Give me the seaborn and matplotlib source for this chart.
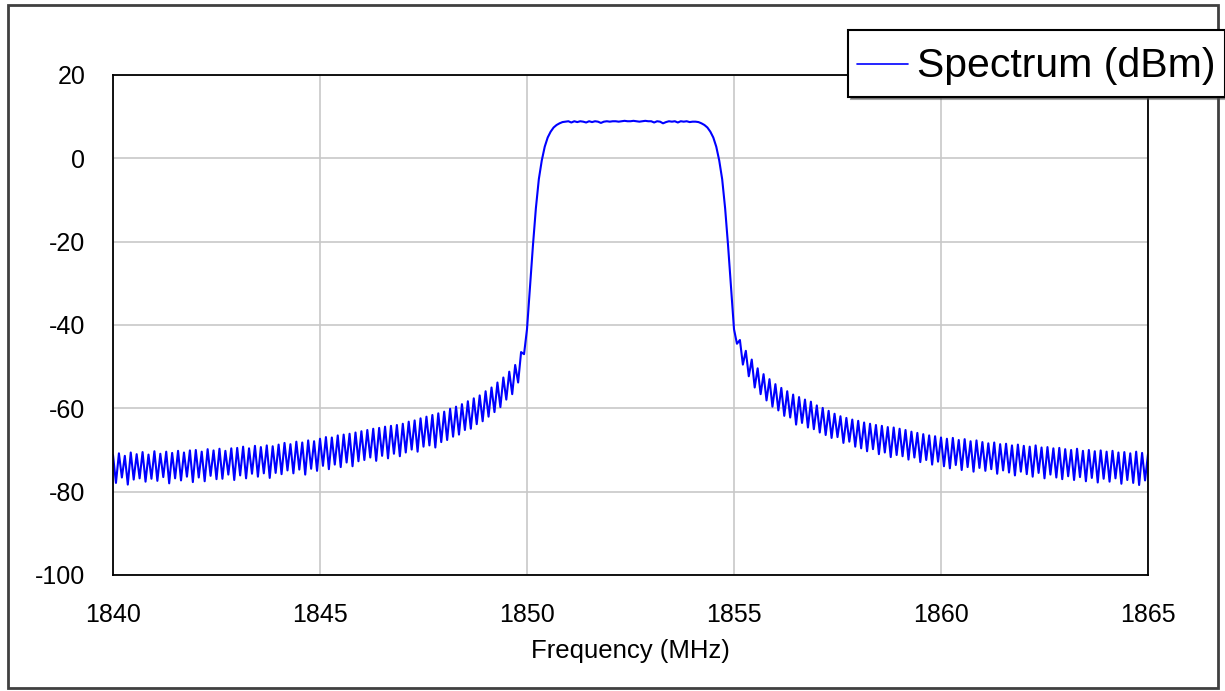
import numpy as np
import pandas as pd
import matplotlib
matplotlib.use("Agg")
import matplotlib.pyplot as plt
from matplotlib.patches import Rectangle
import seaborn as sns

# Spectrum trace, 14 samples per MHz from 1840 to 1865 MHz
level_1840 = [-71.2, -77.9, -70.8, -76.6, -71.4, -78.3, -70.6, -77.1, -71.0, -76.8, -70.5, -77.6, -71.1, -76.9]
level_1841 = [-70.3, -77.4, -70.9, -76.5, -70.4, -78.0, -70.7, -76.8, -70.2, -77.3, -70.6, -76.4, -70.1, -77.7]
level_1842 = [-70.0, -76.6, -70.4, -77.5, -69.8, -76.2, -70.1, -77.0, -69.7, -76.9, -70.2, -75.9, -69.6, -77.2]
level_1843 = [-69.5, -76.1, -69.2, -76.8, -69.6, -75.7, -69.0, -76.4, -69.3, -75.6, -68.9, -76.7, -69.1, -75.5]
level_1844 = [-68.7, -75.8, -68.3, -74.9, -68.6, -75.6, -68.0, -74.7, -68.2, -75.9, -67.7, -74.5, -67.9, -75.0]
level_1845 = [-67.3, -73.8, -66.9, -74.6, -67.0, -73.5, -66.5, -74.1, -66.3, -73.0, -66.1, -73.9, -65.8, -72.7]
level_1846 = [-65.5, -72.4, -65.2, -71.8, -64.9, -72.6, -64.7, -71.4, -64.4, -72.0, -64.2, -70.9, -64.0, -71.5]
level_1847 = [-63.7, -70.6, -63.2, -69.9, -62.9, -70.4, -62.4, -69.2, -62.0, -68.9, -61.6, -69.4, -61.2, -68.1]
level_1848 = [-60.8, -67.6, -60.1, -66.8, -59.6, -66.3, -59.0, -65.2, -58.3, -64.9, -57.6, -63.8, -56.9, -63.1]
level_1849 = [-55.9, -62.0, -55.0, -60.9, -53.8, -59.7, -52.6, -57.9, -51.2, -56.6, -49.6, -53.8, -46.5, -47.0]
level_1850 = [-41.0, -31.0, -21.0, -12.0, -5.0, -0.5, 2.8, 5.0, 6.4, 7.4, 8.0, 8.4, 8.7, 8.8]
level_1851 = [8.9, 8.6, 8.9, 8.7, 8.9, 8.8, 8.6, 8.9, 8.7, 8.9, 8.8, 8.5, 8.8, 8.9]
level_1852 = [8.8, 8.9, 8.9, 8.8, 8.9, 9.0, 8.9, 8.9, 9.0, 8.9, 8.8, 8.9, 9.0, 8.9]
level_1853 = [8.9, 8.6, 8.9, 8.8, 8.4, 8.7, 8.9, 8.8, 8.9, 8.6, 8.9, 8.8, 8.9, 8.7]
level_1854 = [8.8, 8.8, 8.7, 8.4, 8.0, 7.4, 6.4, 5.0, 2.8, -0.5, -5.0, -12.0, -21.0, -31.0]
level_1855 = [-41.0, -44.5, -43.6, -49.5, -46.2, -52.3, -48.3, -55.0, -50.4, -56.6, -51.8, -58.1, -53.0, -59.6]
level_1856 = [-54.2, -60.5, -55.1, -61.8, -55.9, -62.2, -56.7, -63.9, -57.3, -63.5, -57.9, -64.6, -58.4, -65.0]
level_1857 = [-59.3, -65.8, -59.9, -66.4, -60.6, -67.1, -61.3, -66.9, -61.9, -68.3, -62.3, -68.0, -62.7, -69.2]
level_1858 = [-63.0, -69.6, -63.4, -70.3, -63.7, -69.8, -64.0, -71.0, -64.2, -70.6, -64.5, -71.7, -64.6, -71.2]
level_1859 = [-64.9, -71.5, -65.2, -72.3, -65.6, -71.8, -65.9, -72.9, -66.2, -72.4, -66.5, -73.5, -66.7, -72.8]
level_1860 = [-67.0, -73.9, -67.3, -74.4, -67.1, -73.6, -67.6, -74.8, -67.4, -74.1, -67.9, -75.2, -67.7, -74.3]
level_1861 = [-68.1, -75.0, -68.4, -74.6, -68.2, -75.7, -68.6, -74.9, -68.5, -75.4, -68.9, -76.1, -68.7, -75.2]
level_1862 = [-69.0, -75.8, -69.2, -76.4, -68.9, -75.5, -69.4, -76.8, -69.3, -75.9, -69.6, -76.6, -69.5, -77.0]
level_1863 = [-69.8, -76.3, -70.0, -77.2, -69.7, -76.5, -70.2, -77.5, -70.0, -76.7, -70.3, -77.8, -70.1, -76.9]
level_1864 = [-70.4, -77.6, -70.2, -76.8, -70.6, -78.1, -70.5, -77.2, -70.8, -77.9, -70.4, -78.4, -70.7, -77.3]
level_1865 = [-71.0]

x_ticks = [1840, 1845, 1850, 1855, 1860, 1865]
y_ticks = [-100, -80, -60, -40, -20, 0, 20]

levels = (level_1840 + level_1841 + level_1842 + level_1843 + level_1844 +
          level_1845 + level_1846 + level_1847 + level_1848 + level_1849 +
          level_1850 + level_1851 + level_1852 + level_1853 + level_1854 +
          level_1855 + level_1856 + level_1857 + level_1858 + level_1859 +
          level_1860 + level_1861 + level_1862 + level_1863 + level_1864 +
          level_1865)
freq = np.linspace(1840, 1865, len(levels))
df = pd.DataFrame({"freq": freq, "level": levels})

sns.set_style("white")
plt.rcParams["font.family"] = ["Liberation Sans", "DejaVu Sans"]
plt.rcParams["axes.unicode_minus"] = False
plt.rcParams["text.color"] = "black"
plt.rcParams["axes.labelcolor"] = "black"

fig = plt.figure(figsize=(12.25, 6.91), dpi=100)
ax = fig.add_axes([113 / 1225, 116 / 691, 1035 / 1225, 500 / 691])

sns.lineplot(data=df, x="freq", y="level", color="#0000ff", linewidth=1.5,
             label="Spectrum (dBm)", legend=False, ax=ax)

ax.set_xlim(1840, 1865)
ax.set_ylim(-100, 20)
ax.set_xticks(x_ticks)
ax.set_yticks(y_ticks)
ax.grid(True, color="#c8c8c8", linewidth=1.2)
ax.set_axisbelow(True)
ax.tick_params(axis="both", length=0, labelsize=18, colors="black")
ax.tick_params(axis="y", pad=20)
ax.tick_params(axis="x", pad=20)
ax.set_xlabel("Frequency (MHz)", fontsize=18.5, labelpad=9, color="black")
ax.set_ylabel("")
for s in ax.spines.values():
    s.set_color("black")
    s.set_linewidth(1.3)

# outer frame round the whole picture
fig.patches.append(Rectangle((8 / 1225, 3 / 691), 1210 / 1225, 683 / 691,
                             transform=fig.transFigure, fill=False,
                             edgecolor="#404040", linewidth=2))

leg = fig.legend(handles=ax.get_lines(), labels=["Spectrum (dBm)"],
                 loc="upper left", bbox_to_anchor=(848 / 1225, 1 - 30 / 691),
                 fontsize=29.5, frameon=True, fancybox=False, shadow=True,
                 handlelength=1.25, handleheight=1.45, handletextpad=0.22,
                 borderpad=0.22, borderaxespad=0)
leg.get_frame().set_edgecolor("black")
leg.get_frame().set_linewidth(1.5)
handle = leg.get_lines()[0]
handle.set_linewidth(1.2)
# line sits at the middle of the text, not the top of the taller handle box
handle.set_ydata(np.asarray(handle.get_ydata()) - 4.7)

fig.savefig("out.png", dpi=100)
